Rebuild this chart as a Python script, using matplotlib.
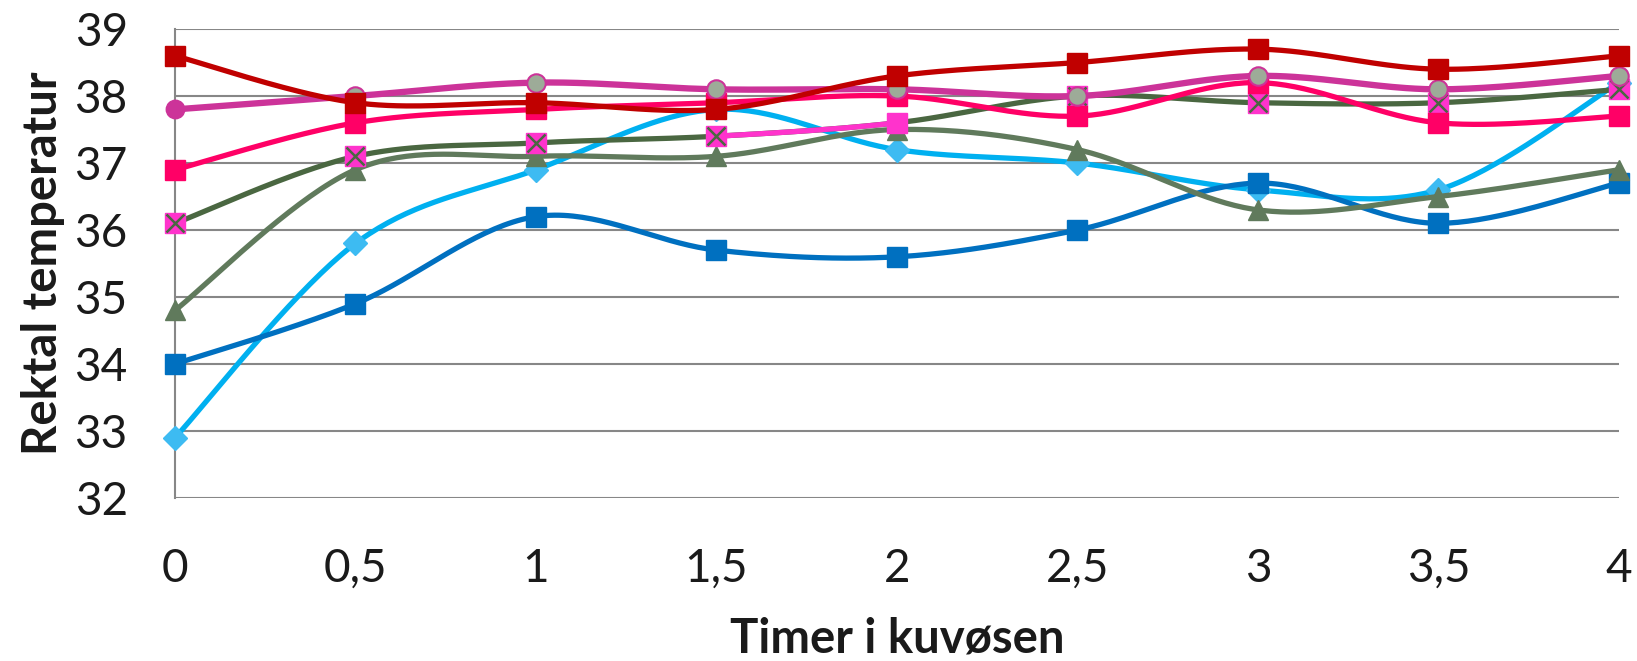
import numpy as np
import matplotlib
matplotlib.use('Agg')
import matplotlib.pyplot as plt

# timer og temperaturer (lest av figuren)
timer = [0, 0.5, 1, 1.5, 2, 2.5, 3, 3.5, 4]
x_etiketter = ['0', '0,5', '1', '1,5', '2', '2,5', '3', '3,5', '4']
y_verdier = [32, 33, 34, 35, 36, 37, 38, 39]

lysebla = [32.9, 35.8, 36.9, 37.8, 37.2, 37.0, 36.6, 36.6, 38.2]
bla = [34.0, 34.9, 36.2, 35.7, 35.6, 36.0, 36.7, 36.1, 36.7]
graagronn = [34.8, 36.9, 37.1, 37.1, 37.5, 37.2, 36.3, 36.5, 36.9]
morkgronn = [36.1, 37.1, 37.3, 37.4, 37.6, 38.0, 37.9, 37.9, 38.1]
rosa = [36.9, 37.6, 37.8, 37.9, 38.0, 37.7, 38.2, 37.6, 37.7]
lilla = [37.8, 38.0, 38.2, 38.1, 38.1, 38.0, 38.3, 38.1, 38.3]
morkrod = [38.6, 37.9, 37.9, 37.8, 38.3, 38.5, 38.7, 38.4, 38.6]


def glatt(x, y, n=40):
    # Excel-lignende glattet linje (Catmull-Rom som Bezier), ett stykke per segment
    P = np.column_stack([x, y]).astype(float)
    t = np.linspace(0, 1, n)[:, None]
    biter = []
    for i in range(len(P) - 1):
        p0, p3 = P[i], P[i + 1]
        forr = P[i - 1] if i > 0 else P[i]
        nest = P[i + 2] if i + 2 < len(P) else P[i + 1]
        c1 = p0 + (p3 - forr) / 6
        c2 = p3 - (nest - p0) / 6
        b = ((1 - t) ** 3) * p0 + 3 * ((1 - t) ** 2) * t * c1 + 3 * (1 - t) * t ** 2 * c2 + t ** 3 * p3
        biter.append(b)
    return biter


def tegn_linje(ax, x, y, farge, lw, z):
    biter = glatt(x, y)
    kurve = np.vstack(biter)
    ax.plot(kurve[:, 0], kurve[:, 1], color=farge, lw=lw, zorder=z,
            solid_capstyle='round', clip_on=False)
    return biter


plt.rcParams['font.family'] = ['Lato', 'DejaVu Sans']

fig = plt.figure(figsize=(16.37, 6.61), dpi=100)
ax = fig.add_axes([0.1069, 0.2466, 0.8821, 0.7095])

lw = 3.8
ms = 14

# lyseblå, romber
tegn_linje(ax, timer, lysebla, '#00B0F0', lw, 3)
ax.plot(timer, lysebla, 'D', ms=ms * 0.85, mfc='#3DBBF2', mec='#3DBBF2', zorder=3.5, clip_on=False)

# blå, kvadrater
tegn_linje(ax, timer, bla, '#0070C0', lw, 4)
ax.plot(timer, bla, 's', ms=ms, mfc='#0070C0', mec='#0070C0', zorder=4.5, clip_on=False)

# grågrønn, trekanter
tegn_linje(ax, timer, graagronn, '#607A5C', lw, 5)
ax.plot(timer, graagronn, '^', ms=ms * 1.05, mfc='#607A5C', mec='#607A5C', zorder=5.5, clip_on=False)

# mørkegrønn linje med rosa kryss-kvadrater
biter = tegn_linje(ax, timer, morkgronn, '#4A6741', lw, 6)
seg = biter[3]
ax.plot(seg[:, 0], seg[:, 1], color='#FF33CC', lw=lw, zorder=6.2, solid_capstyle='round')
kryss_x = [v for i, v in enumerate(timer) if i != 4]
kryss_y = [v for i, v in enumerate(morkgronn) if i != 4]
ax.plot(kryss_x, kryss_y, 's', ms=ms, mfc='#FF33CC', mec='#FF33CC', zorder=6.5, clip_on=False)
ax.plot(kryss_x, kryss_y, 'x', ms=ms * 0.9, mec='#4A6741', mew=1.8, zorder=6.6, clip_on=False)
ax.plot(timer[4], morkgronn[4], 's', ms=ms, mfc='#FF33CC', mec='#FF33CC', zorder=6.6, clip_on=False)

# rosa/rød, kvadrater
tegn_linje(ax, timer, rosa, '#FF0066', lw, 7)
ax.plot(timer, rosa, 's', ms=ms, mfc='#FF0066', mec='#FF0066', zorder=7.5, clip_on=False)

# lilla linje, sirkler
tegn_linje(ax, timer, lilla, '#CC3399', lw * 1.2, 8)
ax.plot(timer[1:], lilla[1:], 'o', ms=ms * 0.95, mfc='#9DAB98', mec='#CC3399', mew=1.5,
        zorder=8.5, clip_on=False)
ax.plot(timer[0], lilla[0], 'o', ms=ms * 0.95, mfc='#CC3399', mec='#CC3399', zorder=8.5, clip_on=False)

# mørkerød, kvadrater
tegn_linje(ax, timer, morkrod, '#C00000', lw, 9)
ax.plot(timer, morkrod, 's', ms=ms, mfc='#C00000', mec='#C00000', zorder=9.5, clip_on=False)

ax.set_xlim(0, 4)
ax.set_ylim(32, 39)
ax.set_xticks(timer)
ax.set_xticklabels(x_etiketter)
ax.set_yticks(y_verdier)
ax.set_yticklabels([str(v) for v in y_verdier])
ax.tick_params(axis='both', length=0, labelsize=33, colors='#1a1a1a')
ax.tick_params(axis='x', pad=36)
ax.tick_params(axis='y', pad=34)

ax.grid(axis='y', color='#878787', lw=1.5, zorder=0)
ax.set_axisbelow(True)
for side in ['top', 'right', 'bottom']:
    ax.spines[side].set_visible(False)
ax.spines['left'].set_color('#878787')
ax.spines['left'].set_linewidth(1.5)

ax.set_xlabel('Timer i kuvøsen', fontsize=34, fontweight='bold', labelpad=19, color='#1a1a1a')
ax.set_ylabel('Rektal temperatur', fontsize=34, fontweight='bold', labelpad=7, color='#1a1a1a')

fig.savefig('out.png', dpi=100)
